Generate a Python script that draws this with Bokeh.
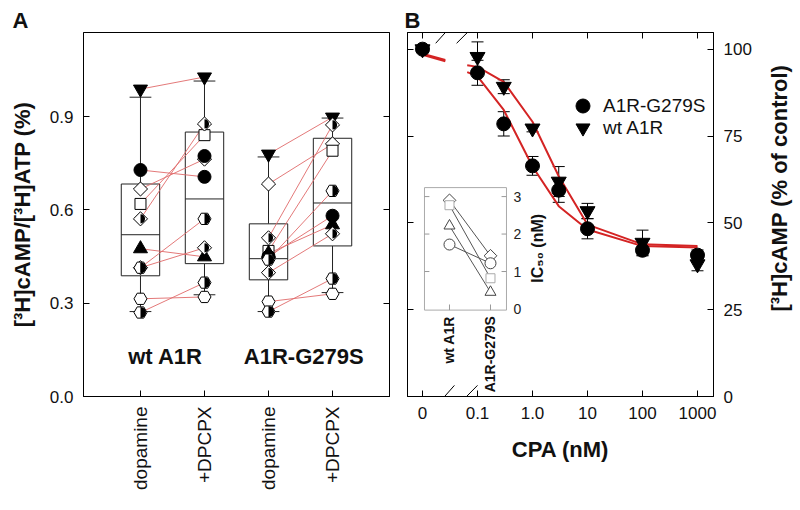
import math
import numpy as np
from bokeh.plotting import figure
from bokeh.layouts import row
from bokeh.models import (Range1d, LinearAxis, FixedTicker, PrintfTickFormatter, Label, Arrow,
                          Whisker, TeeHead, ColumnDataSource, Legend, LegendItem, Title)
from bokeh.core.properties import value
from bokeh.embed import file_html
from bokeh.resources import INLINE

FONT = "Liberation Sans"
nan = float("nan")

# ---------------- Panel A data ----------------
cond_labels = ["dopamine", "+DPCPX", "dopamine", "+DPCPX"]
group_labels = ["wt A1R", "A1R-G279S"]
y_ticks_a = [0.0, 0.3, 0.6, 0.9]

whisk_low = [0.273, 0.327, 0.273, 0.334]
quart_1 = [0.388, 0.427, 0.375, 0.484]
medians = [0.520, 0.635, 0.443, 0.622]
quart_3 = [0.683, 0.850, 0.555, 0.830]
whisk_high = [0.962, 1.014, 0.770, 0.895]

wt_symbols = ["inv_tri", "circle", "diamond", "square", "half_diamond", "triangle",
              "half_diamond", "half_hex", "hex", "half_hex", "circle"]
wt_dopamine = [0.988, 0.728, 0.667, 0.619, 0.571, 0.475, 0.414, 0.414, 0.314, 0.270, nan]
wt_dpcpx = [1.027, 0.706, 0.763, 0.840, 0.876, 0.449, 0.478, 0.571, 0.320, 0.366, 0.773]

mut_symbols = ["inv_tri", "diamond", "half_diamond", "square", "triangle", "circle",
               "half_hex", "half_diamond", "hex", "half_hex"]
mut_dopamine = [0.779, 0.683, 0.510, 0.468, 0.460, 0.450, 0.440, 0.398, 0.305, 0.273]
mut_dpcpx = [0.898, 0.812, 0.873, 0.790, 0.552, 0.581, 0.661, 0.523, 0.330, 0.379]

# ---------------- Panel B data ----------------
cpa_conc = [0, 0.1, 0.3, 1, 3, 10, 100, 1000]
mut_mean = [100, 93.2, 78.5, 66.4, 59.4, 48.3, 42.1, 40.7]
mut_sem = [0, 3.6, 3.5, 2.7, 3.5, 2.9, 1.6, 1.5]
wt_mean = [100, 97.8, 89.2, 77.2, 61.9, 53.4, 44.3, 38.1]
wt_sem = [0, 4.3, 2.0, 1.0, 4.3, 2.2, 3.6, 1.9]

fit_conc_low = [0, 0.026]
fit_conc_high = [0.065, 0.1, 0.3, 1, 3, 10, 100, 1000]
wt_fit_low = [98.7, 96.9]
mut_fit_low = [98.4, 96.5]
wt_fit_high = [95.4, 94.9, 90.6, 79.1, 63.4, 49.5, 43.8, 43.3]
mut_fit_high = [93.4, 92.2, 82.5, 66.2, 54.8, 48.1, 43.3, 42.9]

x_tick_conc = [0, 0.1, 1, 10, 100, 1000]
x_tick_labels = ["0", "0.1", "1.0", "10", "100", "1000"]
y_ticks_b = [0, 25, 50, 75, 100]
right_label = "[³H]cAMP (% of control)"

# inset (IC50)
ic50_groups = ["wt A1R", "A1R-G279S"]
ic50_symbols = ["diamond", "square", "triangle", "circle"]
ic50_wt = [2.90, 2.77, 2.22, 1.72]
ic50_mut = [1.42, 0.82, 0.45, 1.22]
ic50_ticks = [0, 1, 2, 3]

# ---------------- helpers ----------------
SYM = {
    "inv_tri": ("inverted_triangle", 0.0, "black", False, 14),
    "triangle": ("triangle", 0.0, "black", False, 14),
    "circle": ("circle", 0.0, "black", False, 13),
    "diamond": ("square", math.pi / 4, "white", False, 10),
    "half_diamond": ("square", math.pi / 4, "white", True, 10),
    "square": ("square", 0.0, "white", False, 11),
    "hex": ("hex", 0.0, "white", False, 13),
    "half_hex": ("hex", 0.0, "white", True, 13),
}


def style_axis(ax, show_labels=True, size="17px"):
    ax.axis_line_color = "black"
    ax.major_tick_line_color = "black"
    ax.major_tick_in = 6
    ax.major_tick_out = 0
    ax.minor_tick_line_color = None
    ax.major_label_text_font = FONT
    if show_labels:
        ax.major_label_text_color = "#111111"
        ax.major_label_text_font_size = size
    else:
        ax.major_label_text_color = None
        ax.major_label_text_font_size = "1px"
        ax.major_label_standoff = 0


def panel_title(p, text, offset):
    t = Title(text=text, align="left", offset=offset, text_font=FONT,
              text_font_style="bold", text_font_size="22px", text_color="#111111")
    if "standoff" in Title.properties():
        t.standoff = 0
    p.title = t


def xpos(c):
    return math.log10(c) if c > 0 else -2.0


# ================= Panel A =================
pA = figure(width=400, height=510, x_range=Range1d(0.11, 4.89), y_range=Range1d(0, 1.17),
            output_backend="svg", toolbar_location=None,
            min_border_left=83, min_border_right=11, min_border_top=31, min_border_bottom=114)
pA.grid.visible = False
pA.outline_line_color = "black"
pA.background_fill_color = "white"
pA.border_fill_color = "white"
panel_title(pA, "A", -71)

box_x = [1, 2, 3, 4]
box_src = ColumnDataSource(dict(
    x=box_x, lo=whisk_low, q1=quart_1, med=medians, q3=quart_3, hi=whisk_high,
    bl=[v - 0.3 for v in box_x], br=[v + 0.3 for v in box_x],
    cl=[v - 0.17 for v in box_x], cr=[v + 0.17 for v in box_x]))
pA.segment(x0="x", y0="q3", x1="x", y1="hi", source=box_src, line_color="#222222", line_width=1)
pA.segment(x0="x", y0="lo", x1="x", y1="q1", source=box_src, line_color="#222222", line_width=1)
pA.segment(x0="cl", y0="hi", x1="cr", y1="hi", source=box_src, line_color="#222222", line_width=1)
pA.segment(x0="cl", y0="lo", x1="cr", y1="lo", source=box_src, line_color="#222222", line_width=1)
pA.vbar(x="x", width=0.6, bottom="q1", top="q3", source=box_src,
        fill_color="white", line_color="#222222", line_width=1)
pA.segment(x0="bl", y0="med", x1="br", y1="med", source=box_src, line_color="#222222", line_width=1)

# paired lines
for (xa, xb, ya, yb) in [(1, 2, wt_dopamine, wt_dpcpx), (3, 4, mut_dopamine, mut_dpcpx)]:
    pA.segment(x0=[xa] * len(ya), y0=ya, x1=[xb] * len(yb), y1=yb,
               line_color="#e06a6a", line_width=1, line_alpha=0.9)

# points
pts = dict(x=[], y=[], marker=[], angle=[], fill=[], size=[])
halves = dict(x=[], y=[], r=[])
for (xa, xb, syms, ya, yb) in [(1, 2, wt_symbols, wt_dopamine, wt_dpcpx),
                               (3, 4, mut_symbols, mut_dopamine, mut_dpcpx)]:
    for s, a, b in zip(syms, ya, yb):
        mk, ang, fill, half, size = SYM[s]
        for xv, yv in ((xa, a), (xb, b)):
            if not np.isfinite(yv):
                continue
            pts["x"].append(xv)
            pts["y"].append(yv)
            pts["marker"].append(mk)
            pts["angle"].append(ang)
            pts["fill"].append(fill)
            pts["size"].append(size)
            if half:
                halves["x"].append(xv)
                halves["y"].append(yv)
                halves["r"].append(4.6 if s == "half_diamond" else 5.6)

pA.scatter(x="x", y="y", marker="marker", angle="angle", size="size", fill_color="fill",
           line_color="black", line_width=1, source=ColumnDataSource(pts))
pA.wedge(x="x", y="y", radius="r", radius_units="screen", start_angle=-math.pi / 2,
         end_angle=math.pi / 2, fill_color="black", line_color=None,
         source=ColumnDataSource(halves))

# axes A
pA.xaxis.ticker = FixedTicker(ticks=box_x)
pA.xaxis.major_label_overrides = {int(x): lab for x, lab in zip(box_x, cond_labels)}
pA.xaxis.major_label_orientation = math.pi / 2
style_axis(pA.xaxis[0], True, "19px")
pA.xaxis.major_label_standoff = 10

pA.yaxis.ticker = FixedTicker(ticks=y_ticks_a)
pA.yaxis.formatter = PrintfTickFormatter(format="%.1f")
style_axis(pA.yaxis[0], True, "17px")
pA.yaxis.major_label_standoff = 10
pA.yaxis.axis_label = "[³H]cAMP/[³H]ATP (%)"
pA.yaxis.axis_label_text_font = FONT
pA.yaxis.axis_label_text_font_style = "bold"
pA.yaxis.axis_label_text_font_size = "22px"
pA.yaxis.axis_label_text_color = "#111111"
pA.yaxis.axis_label_standoff = 12

ra = LinearAxis(ticker=FixedTicker(ticks=y_ticks_a))
style_axis(ra, False)
pA.add_layout(ra, "right")

for gx, lab in zip([1.39, 3.55], group_labels):
    pA.add_layout(Label(x=gx, y=0.13, text=lab, text_align="center", text_baseline="alphabetic",
                        text_font=FONT, text_font_style="bold", text_font_size="22px",
                        text_color="#111111"))

# ================= Panel B =================
pB = figure(width=360, height=510, x_range=Range1d(-2.273, 3.291), y_range=Range1d(0, 104.8),
            y_axis_location="right", output_backend="svg", toolbar_location=None,
            min_border_left=7, min_border_right=47, min_border_top=32, min_border_bottom=112)
pB.grid.visible = False
pB.outline_line_color = "black"
pB.background_fill_color = "white"
pB.border_fill_color = "white"
panel_title(pB, "B", -3)

curve_color = "#d42424"
for xs, ys in [(fit_conc_low, wt_fit_low), (fit_conc_low, mut_fit_low),
               (fit_conc_high, wt_fit_high), (fit_conc_high, mut_fit_high)]:
    pB.line([xpos(c) for c in xs], ys, line_color=curve_color, line_width=2)

cx = [xpos(c) for c in cpa_conc]
wt_src = ColumnDataSource(dict(x=cx, y=wt_mean,
                               up=[m + e for m, e in zip(wt_mean, wt_sem)],
                               lo=[m - e for m, e in zip(wt_mean, wt_sem)]))
mut_src = ColumnDataSource(dict(x=cx, y=mut_mean,
                                up=[m + e for m, e in zip(mut_mean, mut_sem)],
                                lo=[m - e for m, e in zip(mut_mean, mut_sem)]))
for src in (wt_src, mut_src):
    pB.add_layout(Whisker(source=src, base="x", upper="up", lower="lo", line_color="black",
                          line_width=1,
                          upper_head=TeeHead(size=12, line_color="black", line_width=1),
                          lower_head=TeeHead(size=12, line_color="black", line_width=1)))

r_wt = pB.scatter(x="x", y="y", marker="inverted_triangle", size=15, fill_color="black",
                  line_color="black", source=wt_src)
r_mut = pB.scatter(x="x", y="y", marker="circle", size=14, fill_color="black",
                   line_color="black", source=mut_src)

# legend: one entry per Legend so the row pitch can be set freely
for lab, rend, loc in [("A1R-G279S", r_mut, (158, 273)), ("wt A1R", r_wt, (158, 251))]:
    pB.add_layout(Legend(items=[LegendItem(label=lab, renderers=[rend])],
                         location=loc, glyph_width=35, glyph_height=35, label_height=20,
                         label_standoff=3, padding=0, margin=0,
                         background_fill_alpha=0, border_line_alpha=0,
                         label_text_font=FONT, label_text_font_size="19px",
                         label_text_color="#111111"))

# axes B
xt = [int(round(xpos(c))) for c in x_tick_conc]
pB.xaxis.ticker = FixedTicker(ticks=xt)
pB.xaxis.major_label_overrides = {t: lab for t, lab in zip(xt, x_tick_labels)}
style_axis(pB.xaxis[0], True, "17px")
pB.xaxis.major_label_standoff = 10
pB.xaxis.axis_label = "CPA (nM)"
pB.xaxis.axis_label_text_font = FONT
pB.xaxis.axis_label_text_font_style = "bold"
pB.xaxis.axis_label_text_font_size = "22px"
pB.xaxis.axis_label_text_color = "#111111"
pB.xaxis.axis_label_standoff = 15

yax = pB.yaxis[0]
yax.ticker = FixedTicker(ticks=y_ticks_b)
style_axis(yax, True, "17px")
yax.major_label_standoff = 10

la = LinearAxis(ticker=FixedTicker(ticks=y_ticks_b))
style_axis(la, False)
pB.add_layout(la, "left")
ta = LinearAxis(ticker=FixedTicker(ticks=xt))
style_axis(ta, False)
pB.add_layout(ta, "above")

# axis break marks
for (x0, x1) in [(-1.76, -1.42), (-1.38, -1.0)]:
    for (y0, y1) in [(101.7, 107.7), (-2.9, 3.2)]:
        pB.add_layout(Arrow(x_start=x0, y_start=y0, x_end=x1, y_end=y1, end=None, start=None,
                            line_color="black", line_width=1))

# ---- inset ----
pB.extra_x_ranges = {"ix": Range1d(-0.024, 7.439)}
pB.extra_y_ranges = {"iy": Range1d(-2.336, 7.380)}
IK = dict(x_range_name="ix", y_range_name="iy")
pB.quad(left=0.39, right=2.39, bottom=-0.03, top=3.24, fill_color="white",
        line_color="#aaaaaa", line_width=1, **IK)
tk = [t for t in ic50_ticks if t > 0]
pB.segment(x0=[2.39] * len(tk), y0=tk, x1=[2.27] * len(tk), y1=tk, line_color="#999999", **IK)
pB.segment(x0=[0.39] * len(tk), y0=tk, x1=[0.51] * len(tk), y1=tk, line_color="#999999", **IK)
pB.segment(x0=[1, 2], y0=[-0.03, -0.03], x1=[1, 2], y1=[0.12, 0.12], line_color="#999999", **IK)
pB.text(x=[2.56] * len(ic50_ticks), y=ic50_ticks, text=[str(t) for t in ic50_ticks],
        text_align="left", text_baseline="middle", text_font=value(FONT),
        text_font_size="14px", text_color="#222222", **IK)
pB.text(x=[1, 2], y=[-0.19, -0.19], text=ic50_groups, angle=math.pi / 2,
        text_align="right", text_baseline="middle", text_font=value(FONT),
        text_font_style="bold", text_font_size="14px", text_color="#111111", **IK)
pB.text(x=[3.15], y=[1.62], text=["IC₅₀ (nM)"], angle=math.pi / 2,
        text_align="center", text_baseline="middle", text_font=value(FONT),
        text_font_style="bold", text_font_size="16px", text_color="#111111", **IK)

pB.segment(x0=[1] * len(ic50_wt), y0=ic50_wt, x1=[2] * len(ic50_mut), y1=ic50_mut,
           line_color="#555555", line_width=1, **IK)
INSET_SYM = {"diamond": ("square", math.pi / 4, 9, "#444444"),
             "square": ("square", 0.0, 9, "#aaaaaa"),
             "triangle": ("triangle", 0.0, 11, "#444444"),
             "circle": ("circle", 0.0, 11, "#444444")}
ins = dict(x=[], y=[], marker=[], angle=[], size=[], lc=[])
for s, a, b in zip(ic50_symbols, ic50_wt, ic50_mut):
    mk, ang, size, lc = INSET_SYM[s]
    for xv, yv in ((1, a), (2, b)):
        ins["x"].append(xv)
        ins["y"].append(yv)
        ins["marker"].append(mk)
        ins["angle"].append(ang)
        ins["size"].append(size)
        ins["lc"].append(lc)
pB.scatter(x="x", y="y", marker="marker", angle="angle", size="size", fill_color="white",
           line_color="lc", line_width=1, source=ColumnDataSource(ins), **IK)

# ================= right-hand axis title strip =================
pC = figure(width=40, height=510, x_range=Range1d(0, 1), y_range=Range1d(0, 1),
            x_axis_location=None, y_axis_location=None, output_backend="svg",
            toolbar_location=None, min_border=0)
pC.grid.visible = False
pC.outline_line_color = None
pC.background_fill_color = "white"
pC.border_fill_color = "white"
pC.text(x=[0.47], y=[0.5725], text=[right_label], angle=math.pi / 2,
        text_align="center", text_baseline="middle", text_font=value(FONT),
        text_font_style="bold", text_font_size="22px", text_color="#111111")

layout = row(pA, pB, pC)
open("out.html", "w").write(file_html(layout, INLINE))
